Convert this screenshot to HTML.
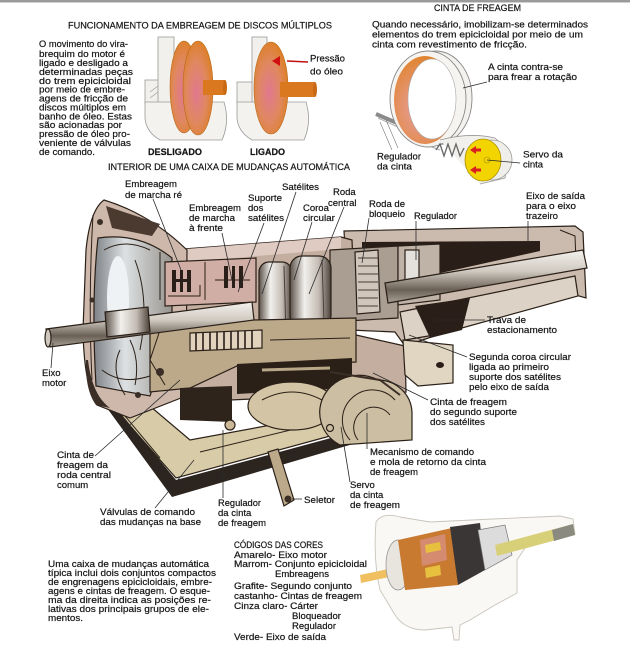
<!DOCTYPE html>
<html><head><meta charset="utf-8">
<style>
html,body{margin:0;padding:0;background:#fff;}
svg{display:block;}
text{font-family:"Liberation Sans","DejaVu Sans",sans-serif;font-size:9.5px;fill:#141414;stroke:#141414;stroke-width:0.2;}
.b{font-weight:bold;}
.ln{stroke:#2a2a2a;stroke-width:0.8;fill:none;}
.o{stroke:#2a2018;stroke-width:1.2;}
.d{stroke:#2a2018;stroke-width:1;fill:none;}
</style></head><body>
<svg width="630" height="653" viewBox="0 0 630 653" xmlns="http://www.w3.org/2000/svg">
<defs>
<linearGradient id="drum" x1="0" x2="1" y1="0" y2="0"><stop offset="0" stop-color="#5a5048"/><stop offset="0.35" stop-color="#f2f0ec"/><stop offset="0.7" stop-color="#c4bcb4"/><stop offset="1" stop-color="#4a4038"/></linearGradient>
<linearGradient id="shaft" x1="0" y1="0" x2="0" y2="1"><stop offset="0" stop-color="#f4f2ee"/><stop offset="0.4" stop-color="#d0cac0"/><stop offset="0.75" stop-color="#6a6056"/><stop offset="1" stop-color="#a8a096"/></linearGradient>
<radialGradient id="disc" cx="0.45" cy="0.55" r="0.6"><stop offset="0" stop-color="#e07890"/><stop offset="0.55" stop-color="#e08860"/><stop offset="1" stop-color="#dc7e20"/></radialGradient>
<radialGradient id="bandg" cx="0.4" cy="0.6" r="0.6"><stop offset="0" stop-color="#e8a0a0"/><stop offset="1" stop-color="#e08430"/></radialGradient>
<linearGradient id="bellin" x1="0" x2="1" y1="0" y2="0"><stop offset="0" stop-color="#7e8286"/><stop offset="0.4" stop-color="#dde1e3"/><stop offset="1" stop-color="#98948e"/></linearGradient>
</defs>

<rect x="0" y="0" width="630" height="2" fill="#9a9a9a"/>
<rect x="0" y="2" width="630" height="1" fill="#cfcfcf"/>

<!-- ===== Clutch drawings ===== -->
<g>
<rect x="145" y="80" width="16" height="24" fill="#f2f0ec" stroke="#9a9a9a" stroke-width="0.8"/>
<rect x="158" y="37" width="16" height="66" fill="#f2f0ec" stroke="#9a9a9a" stroke-width="0.8"/>
<path d="M145,102 L224,102 Q230,122 222,140 L160,140 Q146,132 145,118 Z" fill="#f4f2ee" stroke="#9a9a9a" stroke-width="0.8"/>
<ellipse cx="184" cy="87" rx="14" ry="46" fill="url(#disc)" stroke="#b86818" stroke-width="0.6"/>
<ellipse cx="198" cy="88" rx="15" ry="47" fill="url(#disc)" stroke="#b86818" stroke-width="0.6"/>
<rect x="203" y="80" width="22" height="15" fill="#d9781e"/>
<ellipse cx="225" cy="87.5" rx="2" ry="7.5" fill="#c86a14"/>
<path d="M150,92 L158,86 M150,98 L158,92" stroke="#999" stroke-width="0.6"/>
</g>
<g>
<rect x="237" y="82" width="16" height="22" fill="#f2f0ec" stroke="#9a9a9a" stroke-width="0.8"/>
<rect x="252" y="37" width="15" height="66" fill="#f2f0ec" stroke="#9a9a9a" stroke-width="0.8"/>
<path d="M237,102 L306,102 Q312,122 304,140 L252,140 Q238,132 237,118 Z" fill="#f4f2ee" stroke="#9a9a9a" stroke-width="0.8"/>
<ellipse cx="271" cy="88" rx="17" ry="46" fill="url(#disc)" stroke="#b86818" stroke-width="0.6"/>
<rect x="280" y="82" width="35" height="15" fill="#d9781e"/>
<ellipse cx="315" cy="89.5" rx="2" ry="7.5" fill="#c86a14"/>
<path d="M287,61 L308,62" stroke="#c01010" stroke-width="1.6"/>
<path d="M272,61 L280,56 L280,66 Z" fill="#d01010"/>
</g>
<text x="68" y="28.5" textLength="264" lengthAdjust="spacingAndGlyphs">FUNCIONAMENTO DA EMBREAGEM DE DISCOS MÚLTIPLOS</text>
<text x="39" y="47" textLength="89" lengthAdjust="spacingAndGlyphs">O movimento do vira-</text>
<text x="39" y="57" textLength="86" lengthAdjust="spacingAndGlyphs">brequim do motor é</text>
<text x="39" y="66" textLength="89" lengthAdjust="spacingAndGlyphs">ligado e desligado a</text>
<text x="39" y="75" textLength="94" lengthAdjust="spacingAndGlyphs">determinadas peças</text>
<text x="39" y="84" textLength="92" lengthAdjust="spacingAndGlyphs">do trem epicicloidal</text>
<text x="39" y="92.5" textLength="86" lengthAdjust="spacingAndGlyphs">por meio de embre-</text>
<text x="39" y="101.5" textLength="89" lengthAdjust="spacingAndGlyphs">agens de fricção de</text>
<text x="39" y="110.5" textLength="87" lengthAdjust="spacingAndGlyphs">discos múltiplos em</text>
<text x="39" y="119.5" textLength="93" lengthAdjust="spacingAndGlyphs">banho de óleo. Estas</text>
<text x="39" y="128" textLength="83" lengthAdjust="spacingAndGlyphs">são acionadas por</text>
<text x="39" y="137" textLength="91" lengthAdjust="spacingAndGlyphs">pressão de óleo pro-</text>
<text x="39" y="146" textLength="92" lengthAdjust="spacingAndGlyphs">veniente de válvulas</text>
<text x="39" y="155" textLength="56" lengthAdjust="spacingAndGlyphs">de comando.</text>
<text class="b" x="148" y="155" textLength="54" lengthAdjust="spacingAndGlyphs">DESLIGADO</text>
<text class="b" x="250" y="155" textLength="35" lengthAdjust="spacingAndGlyphs">LIGADO</text>
<text x="310" y="61.5" textLength="35" lengthAdjust="spacingAndGlyphs">Pressão</text>
<text x="310" y="74.5" textLength="33" lengthAdjust="spacingAndGlyphs">do óleo</text>
<text x="108" y="170" textLength="242" lengthAdjust="spacingAndGlyphs">INTERIOR DE UMA CAIXA DE MUDANÇAS AUTOMÁTICA</text>

<!-- ===== Brake band ===== -->
<g>
<path d="M378,118 L400,128 L418,142 L440,150" stroke="#aaa" stroke-width="1" fill="none"/>
<path d="M376,114 L404,126" stroke="#8a8a8a" stroke-width="4"/>
<path d="M380,122 L392,150 M386,120 L398,148" stroke="#777" stroke-width="0.6"/>
<ellipse cx="436" cy="98" rx="36" ry="47" fill="#f4f2ee" stroke="#888" stroke-width="0.9"/>
<ellipse cx="428" cy="99" rx="38" ry="48" fill="#f6f4f0" stroke="#888" stroke-width="0.9"/>
<ellipse cx="425" cy="100" rx="31" ry="44" fill="url(#bandg)"/>
<ellipse cx="432" cy="99" rx="24" ry="40" fill="#ffffff" stroke="#a8a8a8" stroke-width="0.6"/>
<path d="M440,140 Q470,132 495,138 Q510,150 505,178 L480,184" fill="#f2f0ec" stroke="#999" stroke-width="0.8"/>
<path d="M436,150 l4,-6 l4,12 l4,-12 l4,12 l4,-12 l4,12 l4,-8" stroke="#666" stroke-width="1.3" fill="none"/>
<circle cx="492" cy="160" r="20" fill="#f0eeea" stroke="#999" stroke-width="0.8"/>
<ellipse cx="483" cy="160" rx="18" ry="21" fill="#f2d400" stroke="#a89000" stroke-width="0.8"/>
<path d="M470,150 l6,-4 l0,2.5 l5,0 l0,3 l-5,0 l0,2.5 Z" fill="#d82020"/>
<path d="M470,170 l6,-4 l0,2.5 l5,0 l0,3 l-5,0 l0,2.5 Z" fill="#d82020"/>
<circle cx="487" cy="160" r="3" fill="none" stroke="#b09000" stroke-width="0.6"/>
</g>
<path class="ln" d="M463,88 L487,82"/>
<path class="ln" d="M487,160 L520,163"/>
<text x="434" y="11" textLength="87" lengthAdjust="spacingAndGlyphs">CINTA DE FREAGEM</text>
<text x="372" y="27.5" textLength="216" lengthAdjust="spacingAndGlyphs">Quando necessário, imobilizam-se determinados</text>
<text x="372" y="37.5" textLength="211" lengthAdjust="spacingAndGlyphs">elementos do trem epicicloidal por meio de um</text>
<text x="372" y="47.5" textLength="155" lengthAdjust="spacingAndGlyphs">cinta com revestimento de fricção.</text>
<text x="488" y="70" textLength="75" lengthAdjust="spacingAndGlyphs">A cinta contra-se</text>
<text x="488" y="80" textLength="89" lengthAdjust="spacingAndGlyphs">para frear a rotação</text>
<text x="377" y="159.5" textLength="44" lengthAdjust="spacingAndGlyphs">Regulador</text>
<text x="377" y="169.5" textLength="35" lengthAdjust="spacingAndGlyphs">da cinta</text>
<text x="523" y="157.5" textLength="40" lengthAdjust="spacingAndGlyphs">Servo da</text>
<text x="523" y="167.5">cinta</text>

<!-- ===== Transmission ===== -->
<g>
<path d="M100,392 L176,478 L352,430 L352,410 L190,440 L125,385 Z" fill="#d8cba8" class="o"/>
<path d="M96,393 L102,391 L176,480 L353,432 L353,444 L172,497 Z" fill="#2c241e"/>
<path d="M120,410 L160,458 M200,452 L340,418" class="d" stroke-width="0.7"/>
<path d="M344,231 L575,226 L583,232 L586,298 L572,294 L440,334 L405,346 L395,332 L350,330 Z" fill="#cbbbae" class="o"/>
<path d="M362,242 L540,241 L540,251 L400,282 L362,290 Z" fill="#2a1e18"/>
<path d="M400,312 L575,276 L578,296 L440,334 L405,340 Z" fill="#dcd2c6" class="o"/>
<path d="M415,306 L470,298 L462,330 L430,338 Z" fill="#2a1e18"/>
<path d="M560,230 L575,236 L576,262" class="d"/>
<path d="M184,249 L341,237 L352,240 L356,335 L405,346 L406,392 L186,402 L160,345 Z" fill="#c4ae9f" class="o"/>
<path d="M186,249 L341,237 L341,249 L186,262 Z" fill="#e0cbc2"/>
<path d="M104,200 Q90,210 86,250 L83,330 Q84,385 97,405 L130,418 L186,396 L187,250 Q150,214 104,200 Z" fill="#cdb8ab" class="o"/>
<path d="M106,206 L160,224 L152,236 L112,228 Z" fill="#4a3a30"/>
<path d="M98,238 Q91,300 96,386 L150,396 L172,330 L172,258 Q140,232 98,238 Z" fill="url(#bellin)" class="o"/>
<ellipse cx="118" cy="298" rx="11" ry="42" fill="#eef2f4"/>
<path d="M104,250 Q125,238 150,250 M102,370 Q125,388 160,372 M135,260 Q150,300 140,350 M93,215 Q88,300 92,380" class="d" stroke-width="1.2"/>
<path d="M88,360 Q92,395 110,408 L96,405 Q85,390 86,360 Z" fill="#3a2e26"/>
<circle cx="100" cy="222" r="3" fill="#3a2e26"/>
<circle cx="92" cy="300" r="2.5" fill="#3a2e26"/>
<path d="M165,262 L256,258 L256,302 L165,306 Z" fill="#d0aea6" class="o"/>
<rect x="172" y="270" width="4" height="22" fill="#2a1e18"/>
<rect x="180" y="270" width="3" height="22" fill="#2a1e18"/>
<rect x="187" y="270" width="4" height="22" fill="#2a1e18"/>
<rect x="176" y="279" width="11" height="3" fill="#2a1e18"/>
<rect x="224" y="266" width="4" height="22" fill="#2a1e18"/>
<rect x="232" y="266" width="3" height="22" fill="#2a1e18"/>
<rect x="239" y="266" width="4" height="22" fill="#2a1e18"/>
<path d="M168,296 L200,296 L200,285 M205,262 L205,300 M215,280 L250,280 M160,252 L160,300" class="d"/>
<path d="M330,250 L398,246 L398,318 L330,322 Z" fill="#aa9e92" class="o"/>
<path d="M355,252 L378,250 L380,312 L357,314 Z" fill="#d0c6bc" class="o"/>
<path d="M358,258 h20 M358,266 h20 M358,274 h20 M358,282 h20 M358,290 h20 M358,298 h20 M358,306 h20" stroke="#4a3e34" stroke-width="1"/>
<path d="M398,246 L440,244 L440,300 L398,305 Z" fill="#bfb3a8" class="o"/>
<rect x="405" y="250" width="14" height="46" fill="#e4e0dc" class="o"/>
<path d="M385,283 L583,250 L587,268 L388,303 Z" fill="url(#shaft)" class="o"/>
<rect x="259" y="262" width="33" height="76" rx="10" fill="url(#drum)" class="o"/>
<rect x="290" y="256" width="41" height="71" rx="12" fill="url(#drum)" class="o"/>
<path d="M284,266 L286,334 M322,260 L324,322" stroke="#4a4038" stroke-width="1"/>
<path d="M150,322 L356,318 L356,362 L237,366 L190,388 L150,392 Z" fill="#bca98a" class="o"/>
<path d="M190,333 L262,330 L262,348 L190,351 Z" fill="#e0d2bc" class="o"/>
<path d="M196,333 v18 M203,333 v18 M210,332 v18 M217,332 v18 M224,332 v18 M231,331 v18 M238,331 v18 M245,331 v18 M252,331 v18" stroke="#2a1e18" stroke-width="1.6"/>
<path d="M237,364 L352,358 L352,388 L237,394 Z" fill="#2a2018"/>
<path d="M180,388 L232,386 L232,422 L180,420 Z" fill="#2e241c"/>
<path d="M262,370 L330,368" stroke="#b8a888" stroke-width="3"/>
<path d="M160,330 L150,360 L165,385 M130,340 Q140,360 135,385 M270,340 L350,338 M120,350 Q110,370 125,395" class="d" stroke-width="1.2"/>
<circle cx="160" cy="372" r="4" fill="#3a2e26"/>
<circle cx="138" cy="395" r="3" fill="#3a2e26"/>
<path d="M403,340 L453,345 L453,383 L418,386 L405,375 Z" fill="#e0d6c2" class="o"/>
<ellipse cx="440" cy="365" rx="4" ry="3" fill="#2a1e18"/>
<ellipse cx="292" cy="406" rx="44" ry="24" fill="#d2c4a4" class="o"/>
<path d="M262,400 Q292,384 322,400" class="d"/>
<path d="M340,445 A36,34 0 0 1 378,380 A34,34 0 0 1 412,412 L412,440 Z" fill="#ccbea2" class="o"/>
<path d="M350,440 A26,26 0 0 1 395,400 M358,440 A18,18 0 0 1 390,415" class="d" stroke-width="1.2"/>
<path d="M330,372 L380,380 L400,395" stroke="#3a2e26" stroke-width="2" fill="none"/>
<circle cx="230" cy="425" r="5" fill="#cbb898" class="o"/>
<circle cx="330" cy="428" r="3.5" fill="none" stroke="#2a2018" stroke-width="1.2"/>
<path d="M268,452 L278,449 L294,500 L284,506 Z" fill="#bca98a" class="o"/>
<circle cx="288" cy="499" r="3.5" fill="#3a2e26"/>
<path d="M46,329 L252,302 L254,320 L50,347 Z" fill="url(#shaft)" class="o"/>
<ellipse cx="48" cy="338" rx="3" ry="9" fill="#cfc8be" class="o"/>
<path d="M105,312 L148,307 L150,332 L107,337 Z" fill="url(#drum)" class="o"/>
</g>
<g class="ln">
<path d="M153,199 L181,270"/>
<path d="M222,233 L232,280"/>
<path d="M264,223 L238,292"/>
<path d="M296,192 L262,294"/>
<path d="M312,222 L294,280"/>
<path d="M344,207 L309,294"/>
<path d="M369,218 L362,263"/>
<path d="M416,221 L416,260"/>
<path d="M528,221 L528,244"/>
<path d="M485,320 L434,320"/>
<path d="M467,357 L409,335"/>
<path d="M428,400 L373,373"/>
<path d="M367,449 L367,413"/>
<path d="M350,482 L341,427"/>
<path d="M302,499 L292,499"/>
<path d="M223,498 L223,430"/>
<path d="M155,508 L194,460"/>
<path d="M95,456 L180,380"/>
<path d="M51,368 L53,343"/>
</g>
<text x="125" y="187" textLength="52" lengthAdjust="spacingAndGlyphs">Embreagem</text>
<text x="125" y="198" textLength="57" lengthAdjust="spacingAndGlyphs">de marcha ré</text>
<text x="282" y="190" textLength="37" lengthAdjust="spacingAndGlyphs">Satélites</text>
<text x="333" y="195">Roda</text>
<text x="328" y="206">central</text>
<text x="248" y="201" textLength="34" lengthAdjust="spacingAndGlyphs">Suporte</text>
<text x="248" y="211">dos</text>
<text x="248" y="221" textLength="36" lengthAdjust="spacingAndGlyphs">satélites</text>
<text x="189" y="211" textLength="52" lengthAdjust="spacingAndGlyphs">Embreagem</text>
<text x="189" y="221" textLength="46" lengthAdjust="spacingAndGlyphs">de marcha</text>
<text x="189" y="231" textLength="34" lengthAdjust="spacingAndGlyphs">à frente</text>
<text x="303" y="211">Coroa</text>
<text x="303" y="221" textLength="32" lengthAdjust="spacingAndGlyphs">circular</text>
<text x="369" y="207" textLength="36" lengthAdjust="spacingAndGlyphs">Roda de</text>
<text x="369" y="217" textLength="36" lengthAdjust="spacingAndGlyphs">bloqueio</text>
<text x="414" y="219" textLength="43" lengthAdjust="spacingAndGlyphs">Regulador</text>
<text x="526" y="199" textLength="59" lengthAdjust="spacingAndGlyphs">Eixo de saída</text>
<text x="526" y="209" textLength="50" lengthAdjust="spacingAndGlyphs">para o eixo</text>
<text x="526" y="219" textLength="32" lengthAdjust="spacingAndGlyphs">trazeiro</text>
<text x="487" y="323" textLength="39" lengthAdjust="spacingAndGlyphs">Trava de</text>
<text x="487" y="333" textLength="70" lengthAdjust="spacingAndGlyphs">estacionamento</text>
<text x="42" y="376">Eixo</text>
<text x="42" y="386">motor</text>
<text x="469" y="360" textLength="102" lengthAdjust="spacingAndGlyphs">Segunda coroa circular</text>
<text x="469" y="370" textLength="80" lengthAdjust="spacingAndGlyphs">ligada ao primeiro</text>
<text x="469" y="380" textLength="92" lengthAdjust="spacingAndGlyphs">suporte dos satélites</text>
<text x="469" y="390" textLength="80" lengthAdjust="spacingAndGlyphs">pelo eixo de saída</text>
<text x="430" y="405" textLength="77" lengthAdjust="spacingAndGlyphs">Cinta de freagem</text>
<text x="430" y="415" textLength="87" lengthAdjust="spacingAndGlyphs">do segundo suporte</text>
<text x="430" y="425" textLength="55" lengthAdjust="spacingAndGlyphs">dos satélites</text>
<text x="370" y="455" textLength="104" lengthAdjust="spacingAndGlyphs">Mecanismo de comando</text>
<text x="370" y="465" textLength="116" lengthAdjust="spacingAndGlyphs">e mola de retorno da cinta</text>
<text x="370" y="475" textLength="48" lengthAdjust="spacingAndGlyphs">de freagem</text>
<text x="350" y="488">Servo</text>
<text x="350" y="498">da cinta</text>
<text x="350" y="508" textLength="50" lengthAdjust="spacingAndGlyphs">de freagem</text>
<text x="304" y="503" textLength="31" lengthAdjust="spacingAndGlyphs">Seletor</text>
<text x="218" y="506" textLength="43" lengthAdjust="spacingAndGlyphs">Regulador</text>
<text x="218" y="516">da cinta</text>
<text x="218" y="526" textLength="48" lengthAdjust="spacingAndGlyphs">de freagem</text>
<text x="100" y="515" textLength="95" lengthAdjust="spacingAndGlyphs">Válvulas de comando</text>
<text x="100" y="525" textLength="101" lengthAdjust="spacingAndGlyphs">das mudanças na base</text>
<text x="57" y="458" textLength="37" lengthAdjust="spacingAndGlyphs">Cinta de</text>
<text x="57" y="468" textLength="51" lengthAdjust="spacingAndGlyphs">freagem da</text>
<text x="57" y="478" textLength="54" lengthAdjust="spacingAndGlyphs">roda central</text>
<text x="57" y="488">comum</text>

<g>
<path d="M376,522 Q382,512 400,517 L430,522 L493,519 L560,516 L573,519 L575,534 L525,548 L517,560 L517,593 L495,605 L470,620 L460,625 L459,640 L454,640 L452,627 L425,630 Q405,630 395,615 L380,590 Q373,560 376,522 Z" fill="#faf8f4" stroke="#c8c4bc" stroke-width="0.9"/>
<path d="M360,575 L440,558 L441,566 L361,583 Z" fill="#f0c060"/>
<path d="M405,567 L440,559 L441,566 L406,574 Z" fill="#f0b090"/>
<ellipse cx="398" cy="565" rx="12" ry="25" fill="#e8e4de" stroke="#999" stroke-width="0.8"/>
<path d="M398,540 L452,528 L458,585 L405,590 Z" fill="#c87a30"/>
<path d="M420,540 L445,534 L447,560 L422,566 Z" fill="#d89080" opacity="0.8"/>
<path d="M425,545 L440,542 L441,550 L426,553 Z" fill="#e8c040"/>
<path d="M425,568 L440,565 L441,575 L426,578 Z" fill="#e8c040"/>
<path d="M450,527 L480,523 L485,570 L458,585 Z" fill="#3a3636"/>
<path d="M478,530 L505,525 L512,555 L485,570 Z" fill="#dcdcdc" stroke="#777" stroke-width="0.7"/>
<path d="M495,545 L573,524 L575,535 L497,556 Z" fill="#d8d078"/>
<path d="M552,530 L573,524 L575,535 L554,541 Z" fill="#8a8a80"/>
</g>

<text x="48" y="567" textLength="161" lengthAdjust="spacingAndGlyphs">Uma caixa de mudanças automática</text>
<text x="48" y="576" textLength="168" lengthAdjust="spacingAndGlyphs">típica inclui dois conjuntos compactos</text>
<text x="48" y="585" textLength="164" lengthAdjust="spacingAndGlyphs">de engrenagens epicicloidais, embre-</text>
<text x="48" y="594" textLength="162" lengthAdjust="spacingAndGlyphs">agens e cintas de freagem. O esque-</text>
<text x="48" y="603" textLength="163" lengthAdjust="spacingAndGlyphs">ma da direita indica as posições re-</text>
<text x="48" y="612" textLength="161" lengthAdjust="spacingAndGlyphs">lativas dos principais grupos de ele-</text>
<text x="48" y="621" textLength="35" lengthAdjust="spacingAndGlyphs">mentos.</text>

<text x="234" y="548" textLength="89" lengthAdjust="spacingAndGlyphs">CÓDIGOS DAS CORES</text>
<text x="234" y="558" textLength="93" lengthAdjust="spacingAndGlyphs">Amarelo- Eixo motor</text>
<text x="234" y="567" textLength="133" lengthAdjust="spacingAndGlyphs">Marrom- Conjunto epicicloidal</text>
<text x="275" y="577" textLength="54" lengthAdjust="spacingAndGlyphs">Embreagens</text>
<text x="234" y="589" textLength="118" lengthAdjust="spacingAndGlyphs">Grafite- Segundo conjunto</text>
<text x="234" y="599" textLength="128" lengthAdjust="spacingAndGlyphs">castanho- Cintas de freagem</text>
<text x="234" y="609" textLength="84" lengthAdjust="spacingAndGlyphs">Cinza claro- Cárter</text>
<text x="292" y="619" textLength="49" lengthAdjust="spacingAndGlyphs">Bloqueador</text>
<text x="292" y="629" textLength="44" lengthAdjust="spacingAndGlyphs">Regulador</text>
<text x="234" y="640" textLength="92" lengthAdjust="spacingAndGlyphs">Verde- Eixo de saída</text>
</svg>
</body></html>
